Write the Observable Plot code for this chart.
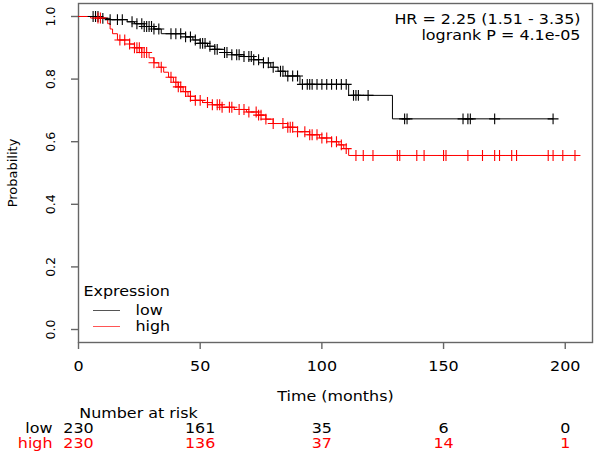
<!DOCTYPE html>
<html><head><meta charset="utf-8">
<script src="https://cdn.jsdelivr.net/npm/d3@7"></script>
<script src="https://cdn.jsdelivr.net/npm/@observablehq/plot@0.6"></script>
<style>body{margin:0;background:#fff} svg{display:block}</style>
</head><body><div id="chart"></div>
<script>
// Kaplan–Meier step points (time in months, survival probability)
const lowTimes = [0, 9, 13, 20, 23, 27, 31, 34, 44, 47, 50, 53, 56, 60, 63, 68, 72, 76, 79, 82, 85, 91, 111, 129, 195];
const lowSurv  = [1.0, 0.994, 0.99, 0.983, 0.977, 0.968, 0.96, 0.945, 0.935, 0.925, 0.914, 0.905, 0.895, 0.885, 0.878, 0.872, 0.862, 0.852, 0.838, 0.825, 0.81, 0.783, 0.748, 0.673, 0.673];
const highTimes = [0, 5, 12, 13, 14, 16, 21, 23, 26, 29, 31, 33, 35, 37, 39, 41, 43, 45, 48, 51, 55, 59, 64, 69, 74, 77, 80, 86, 90, 95, 99, 104, 107, 109, 111, 205];
const highSurv  = [1.0, 0.995, 0.977, 0.96, 0.945, 0.925, 0.912, 0.9, 0.885, 0.868, 0.852, 0.838, 0.822, 0.806, 0.79, 0.775, 0.76, 0.745, 0.732, 0.725, 0.718, 0.71, 0.703, 0.695, 0.685, 0.672, 0.658, 0.646, 0.632, 0.622, 0.612, 0.6, 0.59, 0.578, 0.556, 0.556];
// censoring times
const lowCensor = [6, 7, 8, 10, 13, 16, 18, 22, 24, 26, 27, 28, 29, 30, 31, 33, 38, 40, 42, 44, 46, 48, 50, 51, 52, 54, 56, 57, 60, 61, 63, 65, 66, 68, 70, 71, 72, 74, 76, 78, 80, 83, 84, 86, 88, 90, 92, 94, 95, 96, 98, 100, 102, 104, 106, 108, 110, 113, 114, 115, 119, 134, 135, 158, 160, 161, 171, 195];
const highCensor = [8, 9, 17, 19, 21, 23, 24, 25, 26, 27, 28, 31, 34, 38, 40, 41, 42, 44, 46, 48, 50, 53, 55, 57, 58, 59, 62, 63, 66, 68, 70, 73, 74, 75, 77, 80, 84, 86, 87, 88, 90, 93, 95, 96, 98, 100, 102, 104, 106, 108, 110, 114, 117, 121, 131, 132, 139, 142, 150, 151, 160, 166, 171, 173, 178, 180, 193, 195, 199, 204];
// axes & table
const xTicks = [0, 50, 100, 150, 200];
const yTicks = [0, 0.2, 0.4, 0.6, 0.8, 1.0];
const riskTimes = [0, 50, 100, 150, 200];
const lowRisk = [230, 161, 35, 6, 0];
const highRisk = [230, 136, 37, 14, 1];
const groups = ["low", "high"];
const colors = ["black", "red"];

const survAt = (T, S, t) => S[Math.max(0, d3.bisectRight(T, t) - 1)];
const lowLine = lowTimes.map((t, i) => ({t, s: lowSurv[i]}));
const highLine = highTimes.map((t, i) => ({t, s: highSurv[i]}));
const lowC = lowCensor.map(t => ({t, s: survAt(lowTimes, lowSurv, t)}));
const highC = highCensor.map(t => ({t, s: survAt(highTimes, highSurv, t)}));
const riskLow = riskTimes.map((t, i) => ({t, n: lowRisk[i]}));
const riskHigh = riskTimes.map((t, i) => ({t, n: highRisk[i]}));

const font = "DejaVu Sans";
const fs = 13.5;
const chart = Plot.plot({
  width: 600, height: 456,
  marginLeft: 78, marginRight: 8, marginTop: 3, marginBottom: 114,
  style: {fontFamily: font, fontSize: fs + "px", color: "black", background: "white"},
  x: {domain: [0, 211.2]},
  y: {domain: [-0.0415, 1.0415]},
  marks: [
    Plot.frame({stroke: "#666", strokeWidth: 1.4}),
    Plot.axisX({ticks: xTicks, tickSize: 7, tickPadding: 12, stroke: "#666", strokeWidth: 1.4, label: null, fontSize: fs}),
    Plot.axisY({ticks: yTicks, tickSize: 7, tickFormat: () => "", stroke: "#666", strokeWidth: 1.4, label: null}),
    Plot.text(yTicks, {frameAnchor: "left", y: d => d, text: d => d3.format(".1f")(d), rotate: -90, textAnchor: "middle", lineAnchor: "middle", dx: -27.5, fontSize: 12.5}),
    Plot.text(["Probability"], {frameAnchor: "left", text: d => d, rotate: -90, textAnchor: "middle", lineAnchor: "middle", dx: -66, fontSize: 13}),
    Plot.line(lowLine, {x: "t", y: "s", curve: "step-after", stroke: colors[0], strokeWidth: 1}),
    Plot.line(highLine, {x: "t", y: "s", curve: "step-after", stroke: colors[1], strokeWidth: 1}),
    Plot.dot(lowC, {x: "t", y: "s", symbol: "plus", r: 3.6, stroke: colors[0], strokeWidth: 1.1}),
    Plot.dot(highC, {x: "t", y: "s", symbol: "plus", r: 3.6, stroke: colors[1], strokeWidth: 1.1}),
    Plot.text(["HR = 2.25 (1.51 - 3.35)"], {frameAnchor: "top-right", text: d => d, textAnchor: "end", lineAnchor: "middle", dx: -12, dy: 16, fontSize: fs}),
    Plot.text(["logrank P = 4.1e-05"], {frameAnchor: "top-right", text: d => d, textAnchor: "end", lineAnchor: "middle", dx: -12, dy: 32, fontSize: fs}),
    Plot.text(["Expression"], {frameAnchor: "bottom-left", text: d => d, textAnchor: "start", lineAnchor: "middle", dx: 5, dy: -51, fontSize: fs}),
    Plot.text([groups[0]], {frameAnchor: "bottom-left", text: d => d, textAnchor: "start", lineAnchor: "middle", dx: 57, dy: -32, fontSize: fs}),
    Plot.text([groups[1]], {frameAnchor: "bottom-left", text: d => d, textAnchor: "start", lineAnchor: "middle", dx: 57, dy: -16, fontSize: fs}),
    Plot.text(["Time (months)"], {frameAnchor: "bottom", text: d => d, lineAnchor: "middle", dy: 54, fontSize: fs}),
    Plot.text(["Number at risk"], {frameAnchor: "bottom-left", text: d => d, textAnchor: "middle", lineAnchor: "middle", dx: 60, dy: 71, fontSize: fs}),
    Plot.text([groups[0]], {frameAnchor: "bottom-left", text: d => d, textAnchor: "end", lineAnchor: "middle", dx: -26, dy: 86, fill: colors[0], fontSize: fs}),
    Plot.text([groups[1]], {frameAnchor: "bottom-left", text: d => d, textAnchor: "end", lineAnchor: "middle", dx: -26, dy: 101, fill: colors[1], fontSize: fs}),
    Plot.text(riskLow, {x: "t", frameAnchor: "bottom", text: "n", lineAnchor: "middle", dy: 86, fill: colors[0], fontSize: fs}),
    Plot.text(riskHigh, {x: "t", frameAnchor: "bottom", text: "n", lineAnchor: "middle", dy: 101, fill: colors[1], fontSize: fs})
  ]
});
// legend swatches
const svg = d3.select(chart);
[[310.5, "#555"], [326.5, "#f55"]].forEach(([y, c]) => {
  svg.append("line").attr("x1", 93).attr("x2", 120).attr("y1", y).attr("y2", y).attr("stroke", c).attr("stroke-width", 1);
});
// the reference's horizontal text is widened ~1.18x (non-uniform image scaling)
svg.selectAll("text").each(function () {
  const t = this.getAttribute("transform");
  if (t && !t.includes("rotate")) this.setAttribute("transform", t + " scale(1.18,1)");
});
document.getElementById("chart").append(chart);
</script>
</body></html>
